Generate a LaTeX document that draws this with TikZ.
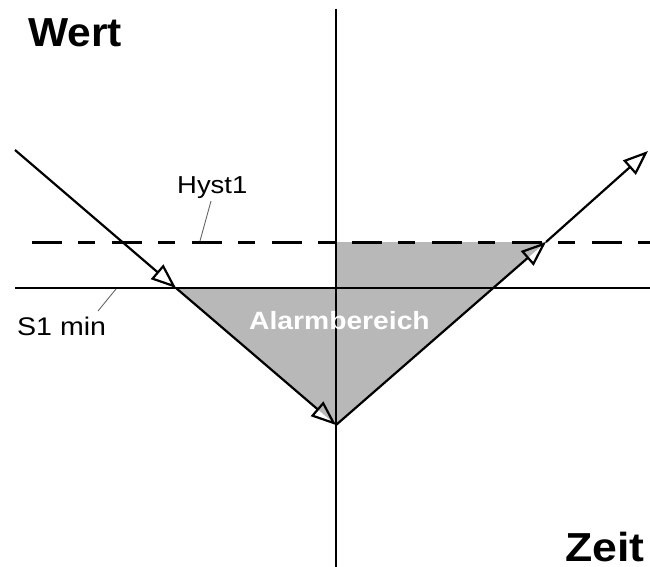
\documentclass[tikz,border=0pt]{standalone}
\usepackage{fontspec}
\setmainfont{Liberation Sans}
\usetikzlibrary{arrows.meta}
\tikzset{
  lbl/.style={inner sep=0pt, anchor=base west},
  thickline/.style={line width=2.6pt, black},
  diag/.style={line width=2.2pt, black, -{Triangle[open,length=25pt,width=19pt]}},
  leader/.style={line width=0.9pt, black!60},
  dashline/.style={line width=3pt, black, dash pattern=on 30pt off 16pt on 17pt off 17pt},
}
\begin{document}
\begin{tikzpicture}[x=1pt,y=-1pt]
\useasboundingbox (0,0) rectangle (650,567);
% key points
\coordinate (A) at (15,150);
\coordinate (P1) at (176,288);
\coordinate (V) at (336,425);
\coordinate (P3) at (546,242);
\coordinate (E) at (648,151);
\coordinate (axTop) at (336,9);
\coordinate (axBot) at (336,567);
\coordinate (sL) at (15,288);
\coordinate (sR) at (650,288);
\coordinate (dL) at (32,242);
\coordinate (dR) at (650,242);
% alarm area
\fill[black!28] (P1) -- (336,288) -- (336,242) -- (P3) -- (V) -- cycle;
% lines
\draw[thickline] (axTop) -- (axBot);
\draw[thickline, line width=2.4pt] (sL) -- (sR);
\draw[dashline] (dL) -- (dR);
\draw[diag] (A) -- (P1);
\draw[diag] (P1) -- (V);
\draw[diag] (V) -- (P3);
\draw[diag] (P3) -- (E);
% labels
\node[lbl, font=\fontsize{40.5}{40}\selectfont\bfseries] (wert) at (28,47) {\scalebox{1.05}[1]{Wert}};
\node[lbl, font=\fontsize{40.5}{40}\selectfont\bfseries, anchor=base east] (zeit) at (645,561) {\scalebox{1.1}[1]{Zeit}};
\node[lbl, font=\fontsize{24.5}{24}\selectfont] (hyst) at (177,193) {\scalebox{1.12}[1]{Hyst1}};
\node[lbl, font=\fontsize{25.5}{25}\selectfont] (smin) at (17,335) {\scalebox{1.12}[1]{S1 min}};
\node[lbl, font=\fontsize{25}{25}\selectfont\bfseries, text=white] (alarm) at (249,329) {\scalebox{1.13}[1]{Alarmbereich}};
% leaders
\coordinate (h1) at (211,201);
\coordinate (h2) at (200,241);
\coordinate (s1) at (98,311);
\coordinate (s2) at (116,289);
\draw[leader] (h1) -- (h2);
\draw[leader] (s1) -- (s2);
\end{tikzpicture}
\end{document}
